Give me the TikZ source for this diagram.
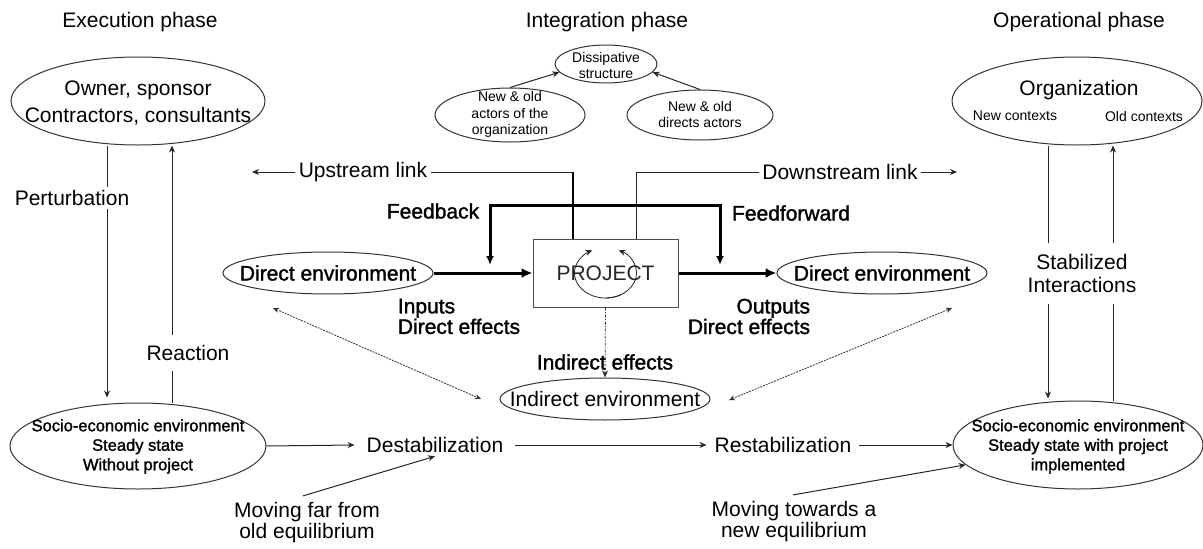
\documentclass[tikz,border=0pt]{standalone}
\usepackage{fontspec}
\setmainfont{Liberation Sans}
\newfontfamily\heavyfont[FakeBold=1.5]{Liberation Sans}
\usetikzlibrary{shapes.geometric,arrows.meta,calc}
\tikzset{
  ell/.style={ellipse, draw=black!80, line width=1pt, inner sep=0pt},
  big/.style={font=\fontsize{21}{25}\selectfont},
  bigh/.style={font=\heavyfont\fontsize{21}{25}\selectfont},
  small/.style={font=\fontsize{14}{16.5}\selectfont},
  socio/.style={font=\heavyfont\fontsize{16.5}{19.5}\selectfont, align=center},
  conn/.style={line width=1pt, draw=black!85},
  arr/.style={-{Stealth[length=7pt,width=6pt]}},
  fb/.style={line width=3pt, draw=black},
  thickarr/.style={line width=3pt, draw=black, -{Latex[length=11pt,width=10pt]}},
  dashdot/.style={line width=0.8pt, draw=black!80, dash pattern=on 3pt off 1.5pt on 1pt off 1.5pt},
  finedash/.style={line width=0.8pt, draw=black!80, dash pattern=on 2pt off 1pt},
}
\begin{document}
\begin{tikzpicture}[x=1pt,y=-1pt]
\useasboundingbox (0,0) rectangle (1203,549);

% phase titles
\node[big] (tExe) at (140,22) {Execution phase};
\node[big] (tInt) at (607,22) {Integration phase};
\node[big] (tOp) at (1079,22) {Operational phase};

% ellipses
\node[ell, minimum width=254pt, minimum height=88pt] (owner) at (138,101) {};
\node[ell, minimum width=102pt, minimum height=38pt] (diss) at (606,64) {};
\node[ell, minimum width=150pt, minimum height=54pt] (actO) at (510,115) {};
\node[ell, minimum width=146pt, minimum height=50pt] (actD) at (700,115) {};
\node[ell, minimum width=250pt, minimum height=88pt] (org) at (1077,101) {};
\node[ell, minimum width=210pt, minimum height=42pt] (denvL) at (328,273) {};
\node[ell, minimum width=210pt, minimum height=42pt] (denvR) at (882,273) {};
\node[ell, minimum width=210pt, minimum height=42pt] (ienv) at (605,399) {};
\node[ell, minimum width=256pt, minimum height=86pt] (socioL) at (138,446) {};
\node[ell, minimum width=250pt, minimum height=88pt] (socioR) at (1078,445) {};

% ellipse texts
\node[font=\fontsize{21}{27}\selectfont, align=center] (ownerT) at (138,103.5) {Owner, sponsor\\Contractors, consultants};
\node[small, align=center, font=\fontsize{14}{16}\selectfont] (dissT) at (606,65) {Dissipative\\structure};
\node[small, align=center] (actOT) at (510,114.5) {New \& old\\actors of the\\organization};
\node[small, align=center, font=\fontsize{14}{16}\selectfont] (actDT) at (700,114) {New \& old\\directs actors};
\node[big] (orgT) at (1079,90) {Organization};
\node[small] (newC) at (1015,116) {New contexts};
\node[small] (oldC) at (1144,116) {Old contexts};
\node[bigh] (denvLT) at (328,273) {Direct environment};
\node[bigh] (denvRT) at (882,273) {Direct environment};
\node[big] (ienvT) at (605,399) {Indirect environment};
\node[socio] (socioLT) at (138,446.5) {Socio-economic environment\\Steady state\\Without project};
\node[socio] (socioRT) at (1078,446.5) {Socio-economic environment\\Steady state with project\\implemented};

% project box
\node[draw=black!70, line width=1pt, minimum width=145pt, minimum height=68pt, inner sep=0pt, big, text=black!85] (proj) at (605.5,273) {PROJECT};
\draw[conn, line width=0.8pt, arr] ($(proj.center)+(60:31 and 25)$) arc[start angle=60, end angle=245, x radius=31, y radius=25];
\draw[conn, line width=0.8pt, arr] ($(proj.center)+(90:31 and 25)$) arc[start angle=90, end angle=-65, x radius=31, y radius=25];

% dissipative structure arrows
\draw[conn, arr] (actO.north) -- (diss.190);
\draw[conn, arr] (actD.north) -- (diss.350);

% upstream / downstream links
\node[big] (up) at (363,172) {Upstream link};
\node[big] (down) at (840,172) {Downstream link};
\coordinate (upEnd) at (252,172);
\coordinate (downEnd) at (957,172);
\coordinate (xU) at (573,0);
\coordinate (xD) at (636,0);
\draw[line width=2.5pt] (proj.north -| xU) -- (xU |- up.east);
\draw[conn] (xU |- up.east) -- (up.east);
\draw[conn, arr] (up.west) -- (upEnd);
\draw[conn] (proj.north -| xD) -- (xD |- down.west) -- (down.west);
\draw[conn, arr] (down.east) -- (downEnd);

% feedback / feedforward
\coordinate (fbL) at (490,265);
\coordinate (fbR) at (720,265);
\coordinate (fbTop) at (0,205);
\draw[fb, {Latex[length=9pt,width=8pt]}-{Latex[length=9pt,width=8pt]}] (fbL) -- (fbL |- fbTop) -- (fbR |- fbTop) -- (fbR);
\node[bigh] (fback) at (433,211) {Feedback};
\node[bigh] (ffwd) at (791,213) {Feedforward};

% main flow
\draw[thickarr] (denvL.east) -- (proj.west);
\draw[thickarr] (proj.east) -- (denvR.west);
\node[bigh, align=left, font=\heavyfont\fontsize{21}{18.5}\selectfont] (inp) at (459,316.5) {Inputs\\Direct effects};
\node[bigh, align=right, font=\heavyfont\fontsize{21}{18.5}\selectfont] (outp) at (749,316.5) {Outputs\\Direct effects};
\node[bigh] (ieff) at (605,362) {Indirect effects};
\draw[dashdot, arr] (proj.south) -- (ienv.north);

% dashed double arrows
\coordinate (dL1) at (273,308);
\coordinate (dL2) at (481,399);
\coordinate (dR1) at (729,400);
\coordinate (dR2) at (952,308);
\draw[finedash, {Stealth[length=6pt,width=5pt]}-{Stealth[length=6pt,width=5pt]}] (dL1) -- (dL2);
\draw[finedash, {Stealth[length=6pt,width=5pt]}-{Stealth[length=6pt,width=5pt]}] (dR1) -- (dR2);

% left column
\node[big] (pert) at (72,198) {Perturbation};
\node[big, minimum height=35pt] (react) at (188,353) {Reaction};
\coordinate (xP) at (107,0);
\coordinate (xR) at (172,0);
\draw[conn] (owner.south -| xP) -- (pert.north -| xP);
\draw[conn, arr, shorten >=5pt] (pert.south -| xP) -- (socioL.north -| xP);
\draw[conn] (socioL.north -| xR) -- (react.south -| xR);
\draw[conn, arr] (react.north -| xR) -- (owner.south -| xR);

% right column
\node[big, align=center, font=\fontsize{21}{23}\selectfont, minimum height=60pt] (stab) at (1082,273.5) {Stabilized\\Interactions};
\coordinate (xS1) at (1048,0);
\coordinate (xS2) at (1113,0);
\draw[conn] (org.south -| xS1) -- (stab.north -| xS1);
\draw[conn, arr, shorten >=2pt] (stab.south -| xS1) -- (socioR.north -| xS1);
\draw[conn] (socioR.north -| xS2) -- (stab.south -| xS2);
\draw[conn, arr] (stab.north -| xS2) -- (org.south -| xS2);

% bottom flow
\node[big, inner xsep=12pt] (destab) at (435,445) {Destabilization};
\node[big, inner xsep=8pt] (restab) at (783,445) {Restabilization};
\draw[conn, arr] (socioL.east) -- (destab.west);
\draw[conn, arr] (destab.east) -- (restab.west);
\draw[conn, arr] (restab.east) -- (socioR.west);
\node[big, align=center, font=\fontsize{21}{19}\selectfont] (mfar) at (307,522.5) {Moving far from\\old equilibrium};
\node[big, align=center, font=\fontsize{21}{19}\selectfont] (mtow) at (794,521.5) {Moving towards a\\new equilibrium};
\draw[conn, arr] ($(mfar.north)+(-4,-3)$) -- (destab.south);
\draw[conn, arr] ($(mtow.north)+(-1,-3)$) -- (socioR.190);
\end{tikzpicture}
\end{document}
